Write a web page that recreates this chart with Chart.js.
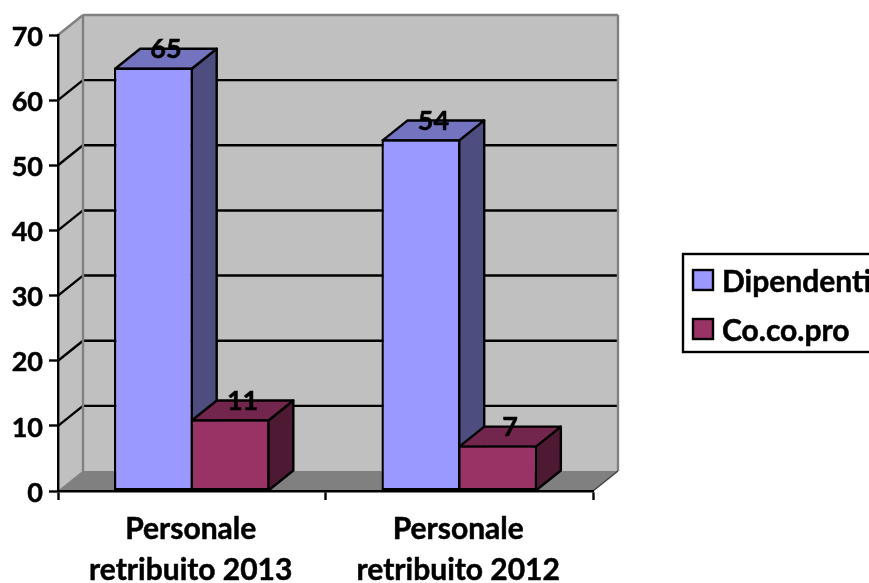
<!DOCTYPE html>
<html>
<head>
<meta charset="utf-8">
<style>
  html, body { margin: 0; padding: 0; background: #fff; overflow: hidden; }
  canvas { display: block; }
</style>
<script src="https://cdn.jsdelivr.net/npm/chart.js@4"></script>
</head>
<body>
<canvas id="chart" width="869" height="583"></canvas>
<script>
const categories = [['Personale', 'retribuito 2013'], ['Personale', 'retribuito 2012']];
const dipendenti = [65, 54];
const cocopro = [11, 7];
const yTicks = [0, 10, 20, 30, 40, 50, 60, 70];

const fontFamily = 'Lato, sans-serif';
const fontSize = 30;
const digitSize = 27; // Lato's digits run wide, so numbers get a smaller size
const textStroke = 0.5;
const lineW = 2.4;

// offset of the back plane from the front plane
const depthX = 25;
const depthY = -20;

const seriesColours = [
  { front: '#9999ff', top: '#7373bf', side: '#4d4d80' },
  { front: '#993366', top: '#73264d', side: '#4d1933' }
];

function poly(ctx, pts, fill, stroke, lw) {
  ctx.beginPath();
  pts.forEach((p, i) => i ? ctx.lineTo(p[0], p[1]) : ctx.moveTo(p[0], p[1]));
  ctx.closePath();
  if (fill) { ctx.fillStyle = fill; ctx.fill(); }
  if (stroke) { ctx.strokeStyle = stroke; ctx.lineWidth = lw; ctx.stroke(); }
}

function line(ctx, x1, y1, x2, y2, colour, lw) {
  ctx.beginPath();
  ctx.moveTo(x1, y1);
  ctx.lineTo(x2, y2);
  ctx.strokeStyle = colour;
  ctx.lineWidth = lw;
  ctx.stroke();
}

function boldText(ctx, text, x, y) {
  ctx.lineWidth = textStroke;
  ctx.strokeStyle = '#000';
  ctx.fillStyle = '#000';
  ctx.fillText(text, x, y);
  ctx.strokeText(text, x, y);
}

// back wall, side wall, floor and gridlines
const wallsPlugin = {
  id: 'walls',
  beforeDraw(chart) {
    const { ctx, scales: { y }, chartArea: { left, right } } = chart;
    const top = y.getPixelForValue(70);
    const base = y.getPixelForValue(0);
    ctx.save();
    poly(ctx, [[left, top], [left + depthX, top + depthY], [right + depthX, top + depthY], [right + depthX, base + depthY], [left + depthX, base + depthY], [left, base]], '#c0c0c0');
    poly(ctx, [[left, base], [left + depthX, base + depthY], [right + depthX, base + depthY], [right, base]], '#808080');

    yTicks.filter(v => v > 0 && v < 70).forEach(v => {
      const py = y.getPixelForValue(v);
      line(ctx, left, py, left + depthX, py + depthY, '#000', lineW);
      line(ctx, left + depthX, py + depthY, right + depthX, py + depthY, '#000', lineW);
    });

    line(ctx, left, top, left + depthX, top + depthY, '#808080', lineW);
    line(ctx, left + depthX, top + depthY, right + depthX, top + depthY, '#808080', lineW);
    line(ctx, left + depthX, top + depthY, left + depthX, base + depthY, '#808080', lineW);
    line(ctx, right + depthX, top + depthY, right + depthX, base + depthY, '#808080', lineW);
    line(ctx, left, base, left + depthX, base + depthY, '#808080', 1);
    line(ctx, right, base, right + depthX, base + depthY, '#404040', 1.5);
    ctx.restore();
  }
};

// top and side faces of each bar, the front faces come from the bar elements
const boxPlugin = {
  id: 'boxes',
  beforeDatasetsDraw(chart) {
    const ctx = chart.ctx;
    ctx.save();
    ctx.lineJoin = 'round';
    chart.data.datasets.forEach((ds, i) => {
      const c = seriesColours[i];
      chart.getDatasetMeta(i).data.forEach(bar => {
        // the element's border is inset, so step in to its centre line
        const x1 = bar.x - bar.width / 2 + lineW / 2;
        const x2 = bar.x + bar.width / 2 - lineW / 2;
        const yTop = bar.y + lineW / 2;
        const yBase = bar.base;
        poly(ctx, [[x2, yTop], [x2 + depthX, yTop + depthY], [x2 + depthX, yBase + depthY], [x2, yBase]], c.side, '#000', lineW);
        poly(ctx, [[x1, yTop], [x1 + depthX, yTop + depthY], [x2 + depthX, yTop + depthY], [x2, yTop]], c.top, '#000', lineW);
      });
    });
    ctx.restore();
  }
};

// value labels sit on the back edge of each bar's top face
const valueLabelPlugin = {
  id: 'valueLabels',
  afterDatasetsDraw(chart) {
    const ctx = chart.ctx;
    ctx.save();
    ctx.font = `bold ${digitSize}px ${fontFamily}`;
    ctx.textAlign = 'center';
    ctx.textBaseline = 'middle';
    chart.data.datasets.forEach((ds, i) => {
      chart.getDatasetMeta(i).data.forEach((bar, j) => {
        boldText(ctx, String(ds.data[j]), bar.x + depthX / 2, bar.y + depthY + 2);
      });
    });
    ctx.restore();
  }
};

// legend box runs off the right edge of the canvas
const legendPlugin = {
  id: 'boxLegend',
  afterDraw(chart) {
    const ctx = chart.ctx;
    ctx.save();
    ctx.fillStyle = '#fff';
    ctx.fillRect(683, 254, 200, 98);
    ctx.strokeStyle = '#000';
    ctx.lineWidth = lineW;
    ctx.strokeRect(683, 254, 200, 98);
    ctx.font = `bold ${fontSize}px ${fontFamily}`;
    ctx.textAlign = 'left';
    ctx.textBaseline = 'middle';
    chart.data.datasets.forEach((ds, i) => {
      const rowY = 280 + i * 49;
      ctx.fillStyle = seriesColours[i].front;
      ctx.fillRect(693, rowY - 10, 20, 20);
      ctx.lineWidth = lineW;
      ctx.strokeStyle = '#000';
      ctx.strokeRect(693, rowY - 10, 20, 20);
      boldText(ctx, ds.label, 722, rowY + 2);
    });
    ctx.restore();
  }
};

new Chart(document.getElementById('chart'), {
  type: 'bar',
  data: {
    labels: categories,
    datasets: [
      { label: 'Dipendenti', data: dipendenti, backgroundColor: seriesColours[0].front, borderColor: '#000', borderWidth: lineW, borderSkipped: false, clip: false },
      { label: 'Co.co.pro', data: cocopro, backgroundColor: seriesColours[1].front, borderColor: '#000', borderWidth: lineW, borderSkipped: false, clip: false }
    ]
  },
  options: {
    responsive: false,
    animation: false,
    layout: { padding: { left: 0, right: 276, top: 35, bottom: 0 } },
    categoryPercentage: 0.573,
    barPercentage: 1.03,
    plugins: {
      legend: { display: false },
      tooltip: { enabled: false }
    },
    scales: {
      x: {
        afterFit(scale) { scale.height = 92; },
        grid: { drawOnChartArea: false, tickLength: 9, tickColor: '#000', tickWidth: lineW },
        border: { color: '#000', width: lineW },
        ticks: {
          color: '#000',
          autoSkip: false,
          maxRotation: 0,
          padding: 9,
          labelOffset: -1,
          textStrokeColor: '#000',
          textStrokeWidth: textStroke,
          font: { family: fontFamily, size: fontSize, weight: 'bold', lineHeight: 1.37 }
        }
      },
      y: {
        min: 0,
        max: 70,
        afterFit(scale) { scale.width = 58; },
        afterBuildTicks(scale) { scale.ticks = yTicks.map(value => ({ value })); },
        grid: { drawOnChartArea: false, tickLength: 9, tickColor: '#000', tickWidth: lineW },
        border: { color: '#000', width: lineW },
        ticks: {
          color: '#000',
          padding: 6,
          labelOffset: 2,
          textStrokeColor: '#000',
          textStrokeWidth: textStroke,
          font: { family: fontFamily, size: digitSize, weight: 'bold' }
        }
      }
    }
  },
  plugins: [wallsPlugin, boxPlugin, valueLabelPlugin, legendPlugin]
});
</script>
</body>
</html>
